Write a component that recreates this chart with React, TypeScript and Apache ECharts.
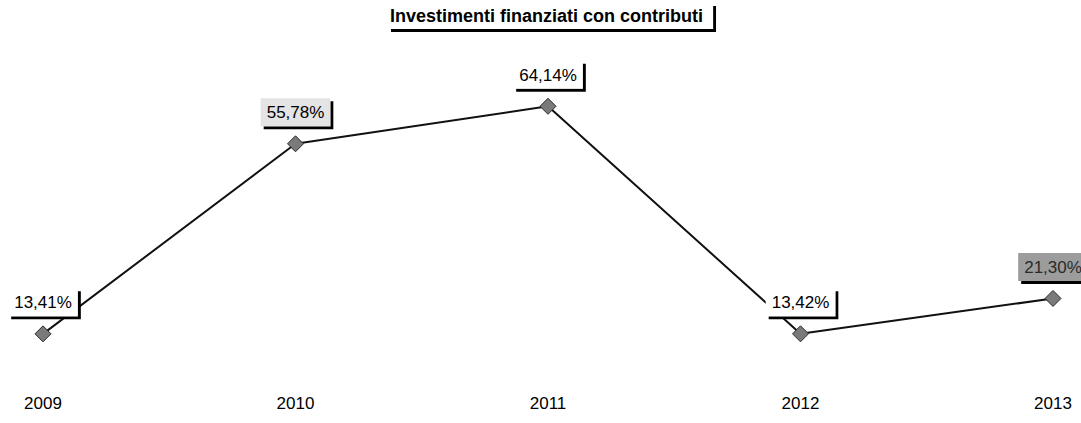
import React, { useEffect, useRef } from "react";
import * as echarts from "echarts";

const titleText = "Investimenti finanziati con contributi";
const years = ["2009", "2010", "2011", "2012", "2013"];
const values = [13.41, 55.78, 64.14, 13.42, 21.3];
const labelTexts = ["13,41%", "55,78%", "64,14%", "13,42%", "21,30%"];
const labelBgs = ["#ffffff", "#e4e4e4", "#ffffff", "#ffffff", "#9c9c9c"];
const labelColors = ["#000000", "#000000", "#000000", "#000000", "#2a2a2a"];

export default function App() {
  const ref = useRef<HTMLDivElement>(null);
  useEffect(() => {
    if (!ref.current) return;
    const chart = echarts.init(ref.current, undefined, { renderer: "svg" });
    const font = "'Liberation Sans', Arial, sans-serif";
    chart.setOption({
      animation: false,
      backgroundColor: "#ffffff",
      title: {
        text: titleText,
        left: 388,
        top: 3,
        padding: [4, 10, 4, 2],
        backgroundColor: "#ffffff",
        shadowColor: "#000000",
        shadowBlur: 0,
        shadowOffsetX: 3,
        shadowOffsetY: 3,
        textStyle: {
          fontFamily: font,
          fontSize: 18,
          fontWeight: "bold",
          color: "#000000",
        },
      },
      grid: { left: 43, right: 28, top: 80, bottom: 29 },
      xAxis: {
        type: "category",
        data: years,
        boundaryGap: false,
        axisLine: { show: false },
        axisTick: { show: false },
        splitLine: { show: false },
        axisLabel: {
          margin: 1,
          fontFamily: font,
          fontSize: 17,
          color: "#000000",
        },
      },
      yAxis: {
        type: "value",
        min: 0,
        max: 70,
        show: false,
        splitLine: { show: false },
      },
      series: [
        {
          type: "line",
          data: values.map((v, i) => ({
            value: v,
            label: {
              formatter: labelTexts[i],
              backgroundColor: labelBgs[i],
              color: labelColors[i],
            },
          })),
          symbol: "diamond",
          symbolSize: 16,
          lineStyle: { color: "#111111", width: 2 },
          itemStyle: { color: "#7a7a7a", borderColor: "#2a2a2a", borderWidth: 1 },
          label: {
            show: true,
            position: "top",
            distance: 9,
            fontFamily: font,
            fontSize: 17,
            color: "#000000",
            padding: [6, 6, 5, 6],
            backgroundColor: "#ffffff",
            shadowColor: "#000000",
            shadowBlur: 0,
            shadowOffsetX: 3,
            shadowOffsetY: 3,
          },
          z: 2,
        },
      ],
    });
    return () => chart.dispose();
  }, []);
  return <div ref={ref} style={{ width: 1081, height: 423, position: "absolute", left: 0, top: 0 }} />;
}
